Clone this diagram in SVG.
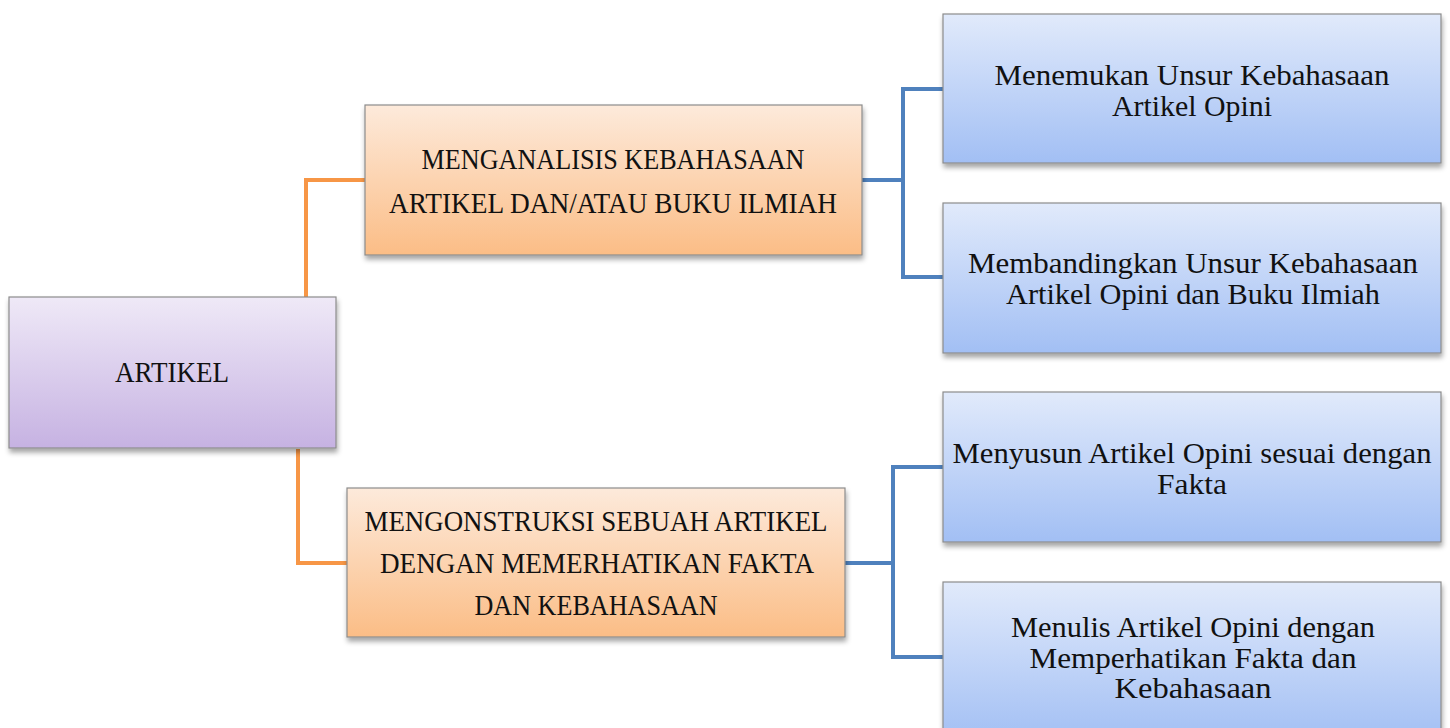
<svg xmlns="http://www.w3.org/2000/svg" width="1450" height="728" viewBox="0 0 1450 728">
<defs>
<linearGradient id="gP" x1="0" y1="0" x2="0" y2="1"><stop offset="0" stop-color="#efe9f7"/><stop offset="1" stop-color="#c6b2e2"/></linearGradient>
<linearGradient id="gO" x1="0" y1="0" x2="0" y2="1"><stop offset="0" stop-color="#fdeadb"/><stop offset="1" stop-color="#fbbd86"/></linearGradient>
<linearGradient id="gB" x1="0" y1="0" x2="0" y2="1"><stop offset="0" stop-color="#e1eafb"/><stop offset="1" stop-color="#a2bff4"/></linearGradient>
<filter id="sh" x="-5%" y="-5%" width="110%" height="125%"><feDropShadow dx="1" dy="4" stdDeviation="2.5" flood-color="#000" flood-opacity="0.35"/></filter>
</defs>
<style>
.box{stroke:#8c8c8c;stroke-width:1.2;filter:url(#sh)}
.t{font-family:"Liberation Serif","DejaVu Serif",serif;font-size:30px;fill:#111;text-anchor:middle}
.co{fill:none;stroke:#f79646;stroke-width:4}
.cb{fill:none;stroke:#4f81bd;stroke-width:4}
</style>
<rect width="1450" height="728" fill="#fff"/>
<g id="connectors">
<path class="co" d="M306 297 V180 H365"/>
<path class="co" d="M298 449 V563 H347"/>
<path class="cb" d="M862 180 H903 M943 89 H903 V277 H943"/>
<path class="cb" d="M845 563 H893 M943 467 H893 V657 H943"/>
</g>
<g id="artikel">
<rect class="box" x="9" y="297" width="327" height="151" fill="url(#gP)"/>
<text class="t" x="172" y="382" textLength="114" lengthAdjust="spacingAndGlyphs">ARTIKEL</text>
</g>
<g id="menganalisis">
<rect class="box" x="365" y="105" width="497" height="150" fill="url(#gO)"/>
<text class="t" x="613" y="169" textLength="383" lengthAdjust="spacingAndGlyphs">MENGANALISIS KEBAHASAAN</text>
<text class="t" x="613" y="213" textLength="448" lengthAdjust="spacingAndGlyphs">ARTIKEL DAN/ATAU BUKU ILMIAH</text>
</g>
<g id="mengonstruksi">
<rect class="box" x="347" y="488" width="498" height="149" fill="url(#gO)"/>
<text class="t" x="596" y="531" textLength="463" lengthAdjust="spacingAndGlyphs">MENGONSTRUKSI SEBUAH ARTIKEL</text>
<text class="t" x="597" y="573" textLength="434" lengthAdjust="spacingAndGlyphs">DENGAN MEMERHATIKAN FAKTA</text>
<text class="t" x="596" y="615" textLength="243" lengthAdjust="spacingAndGlyphs">DAN KEBAHASAAN</text>
</g>
<g id="menemukan">
<rect class="box" x="943" y="14" width="498" height="149" fill="url(#gB)"/>
<text class="t" x="1192" y="85" textLength="395" lengthAdjust="spacingAndGlyphs">Menemukan Unsur Kebahasaan</text>
<text class="t" x="1192" y="116" textLength="160" lengthAdjust="spacingAndGlyphs">Artikel Opini</text>
</g>
<g id="membandingkan">
<rect class="box" x="943" y="203" width="498" height="150" fill="url(#gB)"/>
<text class="t" x="1193" y="273" textLength="450" lengthAdjust="spacingAndGlyphs">Membandingkan Unsur Kebahasaan</text>
<text class="t" x="1193" y="304" textLength="374" lengthAdjust="spacingAndGlyphs">Artikel Opini dan Buku Ilmiah</text>
</g>
<g id="menyusun">
<rect class="box" x="943" y="392" width="498" height="150" fill="url(#gB)"/>
<text class="t" x="1192" y="463" textLength="479" lengthAdjust="spacingAndGlyphs">Menyusun Artikel Opini sesuai dengan</text>
<text class="t" x="1192" y="494" textLength="70" lengthAdjust="spacingAndGlyphs">Fakta</text>
</g>
<g id="menulis">
<rect class="box" x="943" y="582" width="498" height="160" fill="url(#gB)"/>
<text class="t" x="1193" y="637" textLength="364" lengthAdjust="spacingAndGlyphs">Menulis Artikel Opini dengan</text>
<text class="t" x="1193" y="668" textLength="327" lengthAdjust="spacingAndGlyphs">Memperhatikan Fakta dan</text>
<text class="t" x="1193" y="698" textLength="157" lengthAdjust="spacingAndGlyphs">Kebahasaan</text>
</g>
</svg>
